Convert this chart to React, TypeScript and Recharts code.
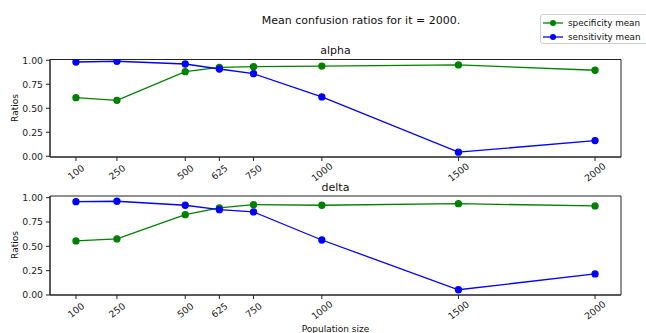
import { LineChart, Line, XAxis, YAxis, ReferenceArea } from "recharts";

const sizes = [100, 250, 500, 625, 750, 1000, 1500, 2000];
const alphaSpecificity = [0.61, 0.583, 0.881, 0.925, 0.933, 0.94, 0.951, 0.896];
const alphaSensitivity = [0.982, 0.99, 0.961, 0.909, 0.86, 0.618, 0.042, 0.163];
const deltaSpecificity = [0.555, 0.576, 0.825, 0.895, 0.928, 0.922, 0.938, 0.915];
const deltaSensitivity = [0.959, 0.963, 0.922, 0.877, 0.853, 0.565, 0.054, 0.216];
const yTicks = [0, 0.25, 0.5, 0.75, 1];

const FONT = "'DejaVu Sans', sans-serif";
const GREEN = "#008000";
const BLUE = "#0000ff";
const X_DOMAIN: [number, number] = [5, 2095];

const alphaData = sizes.map((n, i) => ({ n, spec: alphaSpecificity[i], sens: alphaSensitivity[i] }));
const deltaData = sizes.map((n, i) => ({ n, spec: deltaSpecificity[i], sens: deltaSensitivity[i] }));

function RotTick(props: any) {
  const { x, y, payload } = props;
  const cy = y + 9;
  return (
    <text
      x={x}
      y={cy}
      transform={`rotate(-38 ${x} ${cy})`}
      textAnchor="middle"
      dominantBaseline="central"
      fontSize={9.3}
      fontFamily={FONT}
      fill="#222"
    >
      {payload.value}
    </text>
  );
}

interface PanelProps {
  data: { n: number; spec: number; sens: number }[];
  top: number;
  height: number;
  marginTop: number;
  yDomain: [number, number];
}

function Panel({ data, top, height, marginTop, yDomain }: PanelProps) {
  return (
    <div style={{ position: "absolute", left: 0, top }}>
      <LineChart width={646} height={height} data={data} margin={{ top: marginTop, right: 25, left: 0, bottom: 0 }}>
        <XAxis
          dataKey="n"
          type="number"
          domain={X_DOMAIN}
          allowDataOverflow
          ticks={sizes}
          interval={0}
          height={33}
          tick={<RotTick />}
          tickSize={4}
          tickMargin={2}
          stroke="#222"
          tickLine={{ stroke: "#222" }}
        />
        <YAxis
          type="number"
          domain={yDomain}
          allowDataOverflow
          ticks={yTicks}
          interval={0}
          width={50}
          tickSize={4}
          tickMargin={3}
          stroke="#222"
          tick={{ fontSize: 9.3, fill: "#222", fontFamily: FONT }}
          tickFormatter={(v) => Number(v).toFixed(2)}
        />
        <ReferenceArea
          x1={X_DOMAIN[0]}
          x2={X_DOMAIN[1]}
          y1={yDomain[0]}
          y2={yDomain[1]}
          fill="none"
          stroke="#222"
          strokeWidth={1}
        />
        <Line
          dataKey="spec"
          stroke={GREEN}
          strokeWidth={1.3}
          dot={{ r: 3, fill: GREEN, stroke: GREEN }}
          isAnimationActive={false}
        />
        <Line
          dataKey="sens"
          stroke={BLUE}
          strokeWidth={1.3}
          dot={{ r: 3, fill: BLUE, stroke: BLUE }}
          isAnimationActive={false}
        />
      </LineChart>
    </div>
  );
}

const textStyle = { position: "absolute" as const, fontFamily: FONT, color: "#111", whiteSpace: "nowrap" as const };

function LegendRow({ color, label }: { color: string; label: string }) {
  return (
    <div style={{ display: "flex", alignItems: "center", height: 14 }}>
      <svg width={22} height={10} style={{ marginRight: 4 }}>
        <line x1={1} y1={5} x2={21} y2={5} stroke={color} strokeWidth={1.3} />
        <circle cx={11} cy={5} r={3} fill={color} />
      </svg>
      <span>{label}</span>
    </div>
  );
}

export default function App() {
  return (
    <div style={{ position: "absolute", left: 0, top: 0, width: 646, height: 333, overflow: "hidden", background: "#fff" }}>
      <div style={{ ...textStyle, left: 361, top: 20, fontSize: 11, transform: "translate(-50%, -50%)" }}>
        Mean confusion ratios for it = 2000.
      </div>
      <div style={{ ...textStyle, left: 335.5, top: 50, fontSize: 11, transform: "translate(-50%, -50%)" }}>alpha</div>
      <div style={{ ...textStyle, left: 335.5, top: 187, fontSize: 11, transform: "translate(-50%, -50%)" }}>delta</div>
      <div style={{ ...textStyle, left: 15, top: 108, fontSize: 9, transform: "translate(-50%, -50%) rotate(-90deg)" }}>Ratios</div>
      <div style={{ ...textStyle, left: 15, top: 245, fontSize: 9, transform: "translate(-50%, -50%) rotate(-90deg)" }}>Ratios</div>
      <div style={{ ...textStyle, left: 335.5, top: 329, fontSize: 9, transform: "translate(-50%, -50%)" }}>Population size</div>

      <Panel data={alphaData} top={0} height={190} marginTop={59.5} yDomain={[-0.008, 1.008]} />
      <Panel data={deltaData} top={160} height={168} marginTop={36} yDomain={[0, 1.017]} />

      <div
        style={{
          ...textStyle,
          left: 540,
          top: 14,
          width: 110,
          height: 30,
          boxSizing: "border-box",
          padding: "1px 0 0 1px",
          fontSize: 8.8,
          border: "1px solid #d0d0d0",
          borderRadius: 3,
          background: "rgba(255,255,255,0.8)",
        }}
      >
        <LegendRow color={GREEN} label="specificity mean" />
        <LegendRow color={BLUE} label="sensitivity mean" />
      </div>
    </div>
  );
}
